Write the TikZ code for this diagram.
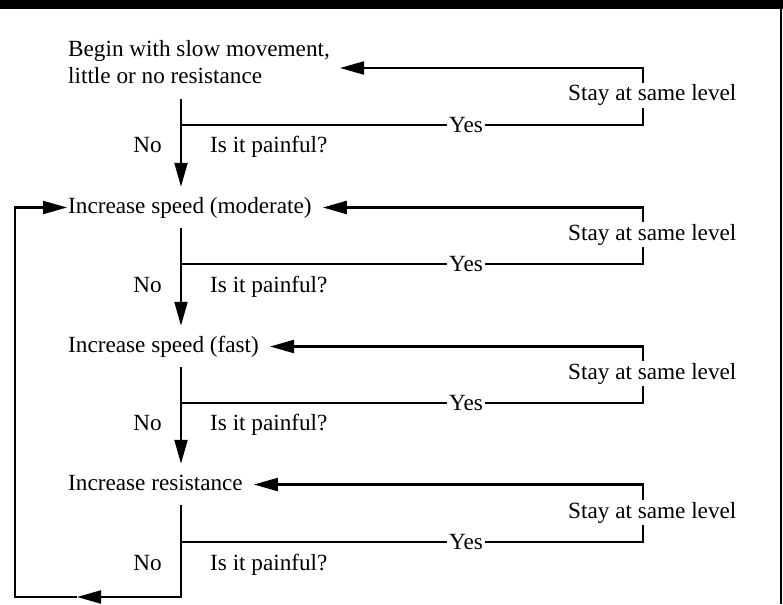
\documentclass[tikz,border=0pt]{standalone}
\usepackage{fontspec}
\setmainfont{Liberation Serif}
\usetikzlibrary{arrows.meta}
\begin{document}
\begin{tikzpicture}[x=1pt,y=-1pt,
  conn/.style={line width=2.1pt},
  arr/.style={line width=2.1pt,-{Triangle[length=24pt,width=13pt]}},
  stepbox/.style={anchor=base west,inner xsep=1pt,inner ysep=10pt,text height=16pt,text depth=5pt},
  lbl/.style={inner sep=0pt},
  yeslbl/.style={inner xsep=2pt,inner ysep=0pt},
  staylbl/.style={anchor=base west,inner xsep=0pt,inner ysep=1.5pt},
  font=\fontsize{23.2}{27}\selectfont]

\useasboundingbox (0,0) rectangle (783,604);
\fill (0,0) rectangle (783,9);
\draw[line width=2.5pt] (781,0) -- (781,604);

% step texts
\node[stepbox] (b0)  at (67,57)  {Begin with slow movement,};
\node[stepbox] (b0b) at (67,84)  {little or no resistance};
\node[stepbox] (s1)  at (67,213) {Increase speed (moderate)};
\node[stepbox] (s2)  at (67,352) {Increase speed (fast)};
\node[stepbox] (s3)  at (67,490) {Increase resistance};

\coordinate (m) at (181,0);
\coordinate (r) at (643,0);

% row labels
\node[lbl,anchor=base east] (n0) at (162,153) {No};
\node[lbl,anchor=base west] (q0) at (210,153) {Is it painful?};
\node[lbl,anchor=base east] (n1) at (162,292) {No};
\node[lbl,anchor=base west] (q1) at (210,292) {Is it painful?};
\node[lbl,anchor=base east] (n2) at (162,430) {No};
\node[lbl,anchor=base west] (q2) at (210,430) {Is it painful?};
\node[lbl,anchor=base east] (n3) at (162,570) {No};
\node[lbl,anchor=base west] (q3) at (210,570) {Is it painful?};

\node[yeslbl] (y0) at (466,125) {Yes};
\node[yeslbl] (y1) at (466,264) {Yes};
\node[yeslbl] (y2) at (466,403) {Yes};
\node[yeslbl] (y3) at (466,542) {Yes};

\node[staylbl] (st0) at (568,101) {Stay at same level};
\node[staylbl] (st1) at (568,240) {Stay at same level};
\node[staylbl] (st2) at (568,379) {Stay at same level};
\node[staylbl] (st3) at (568,518) {Stay at same level};

% junctions and tips
\coordinate (j0) at (181,125);
\coordinate (j1) at (181,264);
\coordinate (j2) at (181,403);
\coordinate (j3) at (181,542);
\coordinate (t0) at (340,68);
\coordinate (lt) at (77,597);
\coordinate (bl) at (15,597);

% main flow (No)
\draw[arr] (b0b.south -| m) -- (s1.north -| m);
\draw[arr] (s1.south -| m) -- (s2.north -| m);
\draw[arr] (s2.south -| m) -- (s3.north -| m);
\draw[arr] (s3.south -| m) |- (lt);
\draw[arr] (lt) -- (bl) |- (s1.west);

% Yes loops
\draw[conn] (j0) -- (y0.west);
\draw[conn] (y0.east) -| (st0.south -| r);
\draw[arr] (st0.north -| r) |- (t0);

\draw[conn] (j1) -- (y1.west);
\draw[conn] (y1.east) -| (st1.south -| r);
\draw[arr] (st1.north -| r) |- ([xshift=10pt]s1.east);

\draw[conn] (j2) -- (y2.west);
\draw[conn] (y2.east) -| (st2.south -| r);
\draw[arr] (st2.north -| r) |- ([xshift=10pt]s2.east);

\draw[conn] (j3) -- (y3.west);
\draw[conn] (y3.east) -| (st3.south -| r);
\draw[arr] (st3.north -| r) |- ([xshift=10pt]s3.east);
\end{tikzpicture}
\end{document}
